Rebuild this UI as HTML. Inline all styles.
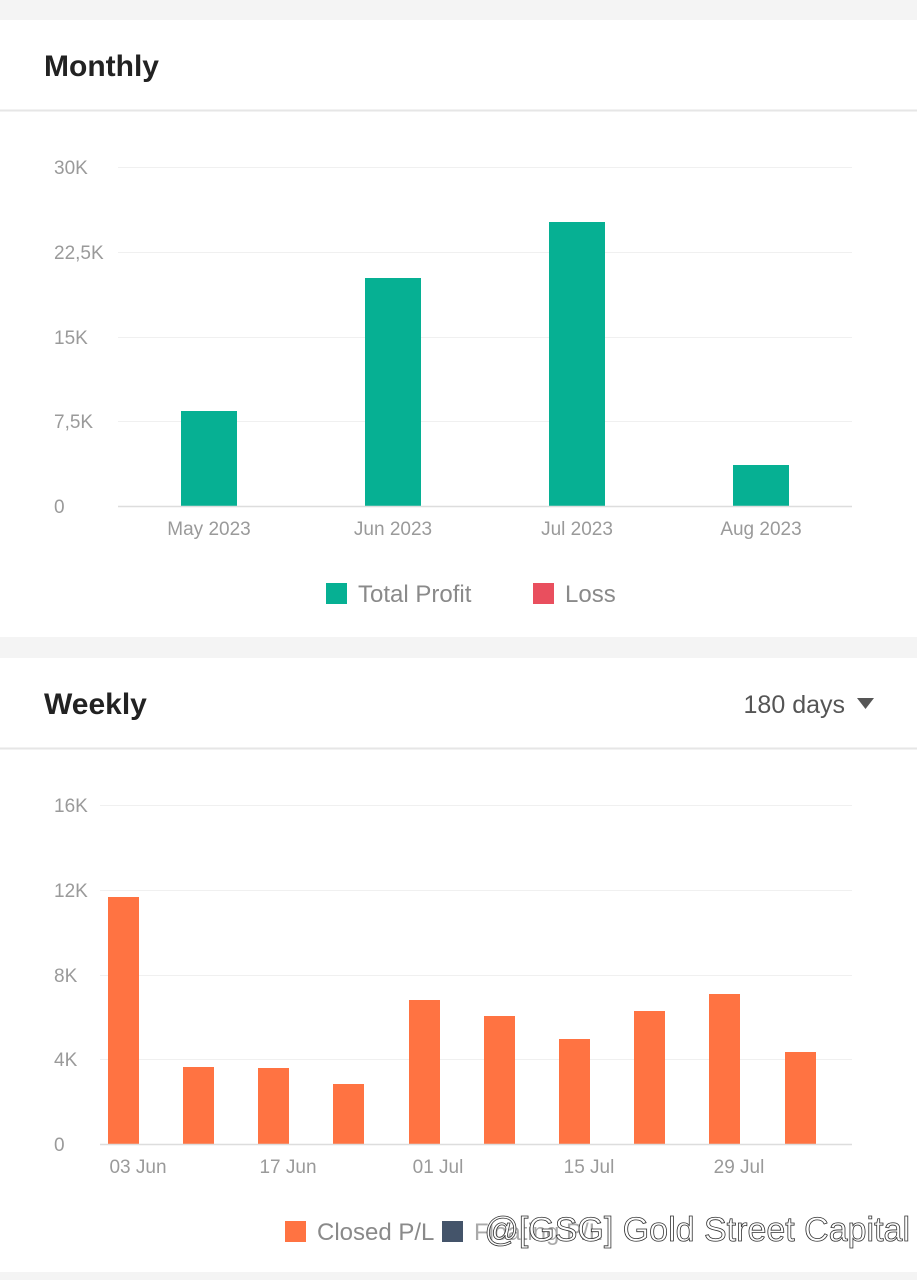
<!DOCTYPE html>
<html><head><meta charset="utf-8"><style>
html,body{margin:0;padding:0;background:#f4f4f4;width:917px;height:1280px;overflow:hidden}
svg{display:block}
</style></head><body>
<svg width="917" height="1280" xmlns="http://www.w3.org/2000/svg" font-family="Liberation Sans, sans-serif">
<rect x="0" y="0" width="917" height="1280" fill="#f4f4f4"/>
<rect x="0" y="20" width="917" height="617" fill="#fff"/>
<rect x="0" y="658" width="917" height="614" fill="#fff"/>
<line x1="0" y1="110.5" x2="917" y2="110.5" stroke="#e6e6e6" stroke-width="2"/>
<line x1="0" y1="748.5" x2="917" y2="748.5" stroke="#e6e6e6" stroke-width="2"/>
<text x="44" y="76" font-size="30" fill="#222" font-weight="bold">Monthly</text>
<text x="44" y="714" font-size="30" fill="#222" font-weight="bold">Weekly</text>
<text x="845" y="713" font-size="25" fill="#555" text-anchor="end">180 days</text>
<polygon points="857,698 874,698 865.5,709" fill="#555"/>
<g stroke="#f0f0f0" stroke-width="1">
<line x1="118" y1="167.5" x2="852" y2="167.5"/><line x1="118" y1="252.5" x2="852" y2="252.5"/>
<line x1="118" y1="337.5" x2="852" y2="337.5"/><line x1="118" y1="421.5" x2="852" y2="421.5"/>
<line x1="100" y1="805.5" x2="852" y2="805.5"/><line x1="100" y1="890.5" x2="852" y2="890.5"/>
<line x1="100" y1="975.5" x2="852" y2="975.5"/><line x1="100" y1="1059.5" x2="852" y2="1059.5"/>
</g>
<g font-size="19" fill="#9a9a9a">
<text x="54" y="174">30K</text><text x="54" y="259">22,5K</text><text x="54" y="344">15K</text><text x="54" y="428">7,5K</text><text x="54" y="513">0</text>
<text x="54" y="812">16K</text><text x="54" y="897">12K</text><text x="54" y="982">8K</text><text x="54" y="1066">4K</text><text x="54" y="1151">0</text>
</g>
<g fill="#06b093">
<rect x="181" y="411" width="56" height="95"/><rect x="365" y="278" width="56" height="228"/>
<rect x="549" y="222" width="56" height="284"/><rect x="733" y="465" width="56" height="41"/>
</g>
<line x1="118" y1="506.5" x2="852" y2="506.5" stroke="#ddd" stroke-width="1.5"/>
<g font-size="19" fill="#9a9a9a" text-anchor="middle">
<text x="209" y="535">May 2023</text><text x="393" y="535">Jun 2023</text><text x="577" y="535">Jul 2023</text><text x="761" y="535">Aug 2023</text>
</g>
<rect x="326" y="583" width="21" height="21" fill="#06b093"/>
<text x="358" y="602" font-size="24" fill="#8a8a8a">Total Profit</text>
<rect x="533" y="583" width="21" height="21" fill="#e94f5e"/>
<text x="565" y="602" font-size="24" fill="#8a8a8a">Loss</text>
<g fill="#ff7342">
<rect x="108" y="897" width="31" height="247"/><rect x="183" y="1067" width="31" height="77"/>
<rect x="258" y="1068" width="31" height="76"/><rect x="333" y="1084" width="31" height="60"/>
<rect x="409" y="1000" width="31" height="144"/><rect x="484" y="1016" width="31" height="128"/>
<rect x="559" y="1039" width="31" height="105"/><rect x="634" y="1011" width="31" height="133"/>
<rect x="709" y="994" width="31" height="150"/><rect x="785" y="1052" width="31" height="92"/>
</g>
<line x1="100" y1="1144.5" x2="852" y2="1144.5" stroke="#ddd" stroke-width="1.5"/>
<g font-size="19" fill="#9a9a9a" text-anchor="middle">
<text x="138" y="1173">03 Jun</text><text x="288" y="1173">17 Jun</text><text x="438" y="1173">01 Jul</text><text x="589" y="1173">15 Jul</text><text x="739" y="1173">29 Jul</text>
</g>
<rect x="285" y="1221" width="21" height="21" fill="#ff7342"/>
<text x="317" y="1240" font-size="24" fill="#8a8a8a">Closed P/L</text>
<rect x="442" y="1221" width="21" height="21" fill="#44546a"/>
<text x="474" y="1240" font-size="24" fill="#aaa">Floating P/L</text>
<text x="910" y="1241" font-size="34" fill="#fff" stroke="#333" stroke-width="0.8" text-anchor="end">@[GSG] Gold Street Capital</text>
</svg>
</body></html>
